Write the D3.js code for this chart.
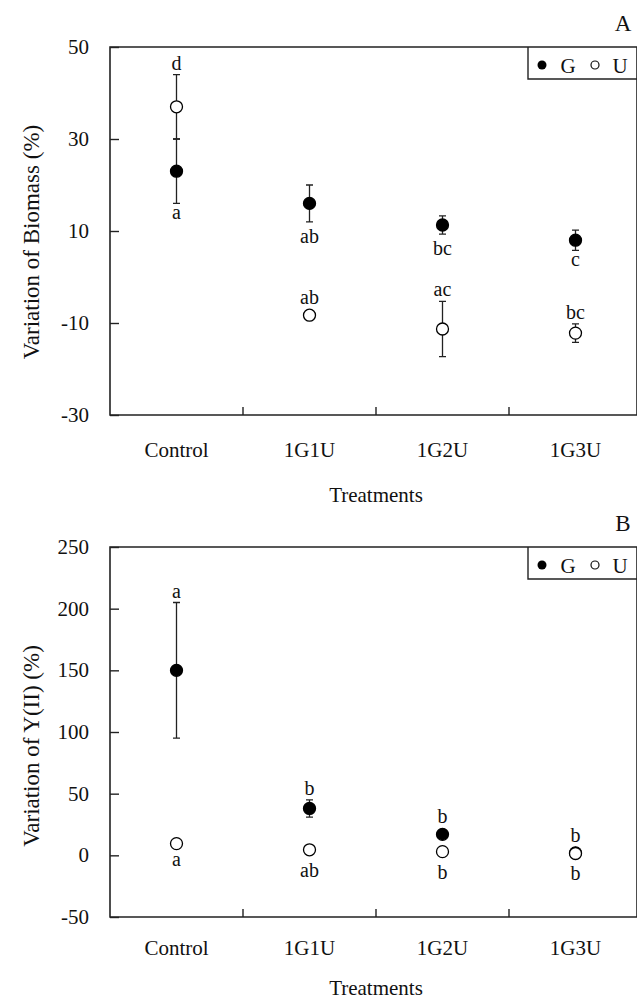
<!DOCTYPE html>
<html lang="en">
<head>
    <meta charset="UTF-8">
    <title>Variation of Biomass and Y(II)</title>
    <script src="https://d3js.org/d3.v7.min.js"></script>
    <style>
        body { margin: 0; background: #fff; }
        svg { display: block; }
        text { font-family: "Liberation Serif", "DejaVu Serif", serif; fill: #111; }
    </style>
</head>
<body>
    <svg id="chart" width="637" height="1000"></svg>

    <script>
        // categories
        const treatments = ["Control", "1G1U", "1G2U", "1G3U"];

        // panel A: variation of biomass (%)
        const biomassG = [23, 16, 11.3, 8];
        const biomassGErr = [7, 4, 2, 2.2];
        const biomassU = [37, -8.3, -11.3, -12.2];
        const biomassUErr = [7, 1, 6, 2];
        const biomassGLetters = ["a", "ab", "bc", "c"];
        const biomassULetters = ["d", "ab", "ac", "bc"];
        const biomassTicks = [-30, -10, 10, 30, 50];

        // panel B: variation of Y(II) (%)
        const yiiG = [150, 38, 17, 2];
        const yiiGErr = [55, 7, 3, 2];
        const yiiU = [9.5, 4.5, 3, 1.5];
        const yiiUErr = [2, 1.5, 2, 2];
        const yiiGLetters = ["a", "b", "b", "b"];
        const yiiULetters = ["a", "ab", "b", "b"];
        const yiiTicks = [-50, 0, 50, 100, 150, 200, 250];

        const svg = d3.select("#chart");
        const left = 110, right = 642, frameRight = 637;
        const r = 6;

        const x = d3.scaleBand().domain(treatments).range([left, right]);

        function drawPanel(p) {
            const y = d3.scaleLinear().domain([p.ticks[0], p.ticks[p.ticks.length - 1]]).range([p.bottom, p.top]);
            const g = svg.append("g");

            // frame (right side falls on the page edge)
            g.append("path")
                .attr("d", `M${frameRight},${p.top}H${left}V${p.bottom}H${frameRight}V${p.top}`)
                .attr("fill", "none").attr("stroke", "#222").attr("stroke-width", 1.6);

            // y ticks point inward
            const yAxis = d3.axisRight(y).tickValues(p.ticks).tickSize(9).tickFormat("");
            g.append("g").attr("transform", `translate(${left},0)`).call(yAxis)
                .call(s => s.select(".domain").remove())
                .call(s => s.selectAll("line").attr("stroke", "#222").attr("stroke-width", 1.4));
            g.selectAll(".ylab").data(p.ticks).enter().append("text")
                .attr("x", 89).attr("y", d => y(d) + 7)
                .attr("text-anchor", "end").attr("font-size", 21)
                .text(d => d);

            // x ticks at category boundaries, pointing up
            const bounds = treatments.slice(1).map(t => x(t));
            g.selectAll(".xt").data(bounds).enter().append("line")
                .attr("x1", d => d).attr("x2", d => d)
                .attr("y1", p.bottom).attr("y2", p.bottom - 8)
                .attr("stroke", "#222").attr("stroke-width", 1.4);
            g.selectAll(".xlab").data(treatments).enter().append("text")
                .attr("x", d => x(d) + x.bandwidth() / 2)
                .attr("y", p.xLabelY)
                .attr("text-anchor", "middle").attr("font-size", 21)
                .text(d => d);

            g.append("text").attr("x", 376).attr("y", p.titleY)
                .attr("text-anchor", "middle").attr("font-size", 21).text("Treatments");

            g.append("text")
                .attr("transform", `translate(39,${p.yTitleMid}) rotate(-90)`)
                .attr("text-anchor", "middle").attr("font-size", 23)
                .text(p.yTitle);

            // panel letter
            g.append("text").attr("x", 623).attr("y", p.top - 16)
                .attr("text-anchor", "middle").attr("font-size", 23).text(p.letter);

            // legend
            const ly = p.top + 18;
            g.append("path")
                .attr("d", `M528,${p.top}V${p.top + 32}H${frameRight}`)
                .attr("fill", "none").attr("stroke", "#222").attr("stroke-width", 1.4);
            g.append("circle").attr("cx", 542).attr("cy", ly).attr("r", 4.5).attr("fill", "#000");
            g.append("text").attr("x", 568).attr("y", ly + 8).attr("text-anchor", "middle").attr("font-size", 21).text("G");
            g.append("circle").attr("cx", 595).attr("cy", ly).attr("r", 4)
                .attr("fill", "#fff").attr("stroke", "#111").attr("stroke-width", 1.2);
            g.append("text").attr("x", 620).attr("y", ly + 8).attr("text-anchor", "middle").attr("font-size", 21).text("U");

            // series: G (filled) then U (open, on top)
            const series = [
                { vals: p.g, err: p.gErr, letters: p.gLetters, pos: p.gPos, fill: "#000" },
                { vals: p.u, err: p.uErr, letters: p.uLetters, pos: p.uPos, fill: "#fff" }
            ];
            series.forEach(s => {
                const pts = treatments.map((t, i) => ({
                    cx: x(t) + x.bandwidth() / 2,
                    v: s.vals[i], e: s.err[i], lab: s.letters[i]
                }));
                const sg = g.append("g");
                sg.selectAll(".eb").data(pts).enter().append("path")
                    .attr("d", d => {
                        const y1 = y(d.v + d.e), y2 = y(d.v - d.e);
                        return `M${d.cx},${y1}V${y2}M${d.cx - 3.5},${y1}H${d.cx + 3.5}M${d.cx - 3.5},${y2}H${d.cx + 3.5}`;
                    })
                    .attr("fill", "none").attr("stroke", "#222").attr("stroke-width", 1.3);
                sg.selectAll(".pt").data(pts).enter().append("circle")
                    .attr("cx", d => d.cx).attr("cy", d => y(d.v)).attr("r", r)
                    .attr("fill", s.fill).attr("stroke", "#000").attr("stroke-width", 1.3);
                sg.selectAll(".lab").data(pts).enter().append("text")
                    .attr("x", d => d.cx)
                    .attr("y", d => {
                        if (s.pos === "above") {
                            return Math.min(y(d.v + d.e), y(d.v) - r) - 5;
                        }
                        const asc = /[bdfhklt]/.test(d.lab) ? 14 : 9;
                        return Math.max(y(d.v - d.e), y(d.v) + r) + 7 + asc;
                    })
                    .attr("text-anchor", "middle").attr("font-size", 20)
                    .text(d => d.lab);
            });
        }

        drawPanel({
            top: 47, bottom: 415, ticks: biomassTicks,
            g: biomassG, gErr: biomassGErr, gLetters: biomassGLetters, gPos: "below",
            u: biomassU, uErr: biomassUErr, uLetters: biomassULetters, uPos: "above",
            xLabelY: 457, titleY: 502, yTitle: "Variation of Biomass (%)", yTitleMid: 242, letter: "A"
        });

        drawPanel({
            top: 547, bottom: 917, ticks: yiiTicks,
            g: yiiG, gErr: yiiGErr, gLetters: yiiGLetters, gPos: "above",
            u: yiiU, uErr: yiiUErr, uLetters: yiiULetters, uPos: "below",
            xLabelY: 955, titleY: 995, yTitle: "Variation of Y(II) (%)", yTitleMid: 746, letter: "B"
        });
    </script>
</body>
</html>
